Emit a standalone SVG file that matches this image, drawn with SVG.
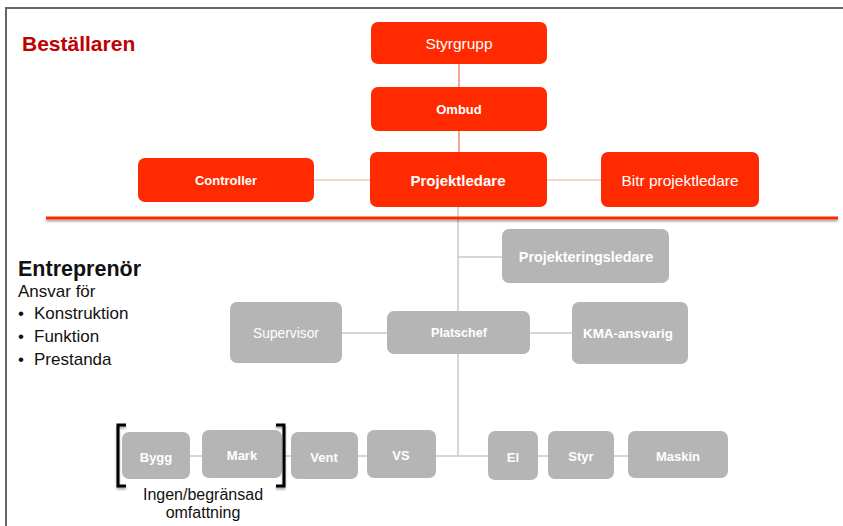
<svg xmlns="http://www.w3.org/2000/svg" width="843" height="526" viewBox="0 0 843 526">
  <defs>
    <filter id="sh" x="-5%" y="-50%" width="110%" height="300%">
      <feGaussianBlur in="SourceAlpha" stdDeviation="1.2"/>
      <feOffset dx="0" dy="2" result="b"/>
      <feComponentTransfer><feFuncA type="linear" slope="0.35"/></feComponentTransfer>
      <feMerge><feMergeNode/><feMergeNode in="SourceGraphic"/></feMerge>
    </filter>
  </defs>
  <style>
    text { font-family: "Liberation Sans", Arial, sans-serif; }
    .red rect { fill: #ff2a00; }
    .gray rect { fill: #b5b5b5; }
    .lbl { fill: #ffffff; font-size: 13px; text-anchor: middle; }
    .b { font-weight: bold; }
    .redline { stroke: #f26a50; stroke-width: 1.2; fill: none; }
    .paleline { stroke: #f5a898; stroke-width: 1.2; fill: none; }
    .grayline { stroke: #c8c8c8; stroke-width: 1.5; fill: none; }
    .side { fill: #111111; font-size: 17px; }
    .bracket { stroke: #000000; stroke-width: 3; fill: none; }
  </style>

  <rect width="843" height="526" fill="#ffffff"/>
  <!-- slide frame -->
  <path d="M6,526 V8 H843" stroke="#666666" stroke-width="2" fill="none"/>

  <!-- connectors -->
  <g id="connectors">
    <line class="redline" x1="459" y1="64" x2="459" y2="87"/>
    <line class="redline" x1="459" y1="131" x2="459" y2="152"/>
    <line class="paleline" x1="314" y1="180" x2="370" y2="180"/>
    <line class="paleline" x1="547" y1="180" x2="601" y2="180"/>
    <line class="grayline" x1="458" y1="207" x2="458" y2="456"/>
    <line class="grayline" x1="458" y1="257" x2="502" y2="257"/>
    <line class="grayline" x1="342" y1="333" x2="387" y2="333"/>
    <line class="grayline" x1="530" y1="333" x2="572" y2="333"/>
    <line class="grayline" x1="190" y1="456" x2="628" y2="456"/>
  </g>

  <!-- separator between client and contractor -->
  <rect x="46" y="216.5" width="792" height="3" fill="#ff2a00" filter="url(#sh)"/>

  <text x="22" y="51" fill="#c00000" font-size="21" font-weight="bold">Beställaren</text>

  <g id="styrgrupp" class="red">
    <rect x="371" y="22" width="176" height="42" rx="7"/>
    <text class="lbl" x="459" y="49" style="font-size:15.5px">Styrgrupp</text>
  </g>
  <g id="ombud" class="red">
    <rect x="371" y="87" width="176" height="44" rx="7"/>
    <text class="lbl b" x="459" y="114">Ombud</text>
  </g>
  <g id="controller" class="red">
    <rect x="138" y="158" width="176" height="44" rx="7"/>
    <text class="lbl b" x="226" y="185">Controller</text>
  </g>
  <g id="projektledare" class="red">
    <rect x="370" y="152" width="177" height="55" rx="7"/>
    <text class="lbl b" x="458" y="186" style="font-size:15px">Projektledare</text>
  </g>
  <g id="bitr-projektledare" class="red">
    <rect x="601" y="152" width="158" height="55" rx="7"/>
    <text class="lbl" x="680" y="186" style="font-size:15.5px">Bitr projektledare</text>
  </g>

  <!-- contractor side -->
  <text x="18" y="276" fill="#111111" font-size="21.5" font-weight="bold">Entreprenör</text>
  <text class="side" x="18" y="297">Ansvar för</text>
  <text class="side" x="18" y="319">•</text>
  <text class="side" x="34" y="319">Konstruktion</text>
  <text class="side" x="18" y="342">•</text>
  <text class="side" x="34" y="342">Funktion</text>
  <text class="side" x="18" y="365">•</text>
  <text class="side" x="34" y="365">Prestanda</text>

  <g id="projekteringsledare" class="gray">
    <rect x="502" y="229" width="167" height="54" rx="7"/>
    <text class="lbl b" x="586" y="262" style="font-size:14.4px">Projekteringsledare</text>
  </g>
  <g id="supervisor" class="gray">
    <rect x="230" y="302" width="112" height="61" rx="7"/>
    <text class="lbl" x="286" y="338" style="font-size:13.8px">Supervisor</text>
  </g>
  <g id="platschef" class="gray">
    <rect x="387" y="311" width="143" height="43" rx="7"/>
    <text class="lbl b" x="459" y="337" style="font-size:12.6px">Platschef</text>
  </g>
  <g id="kma-ansvarig" class="gray">
    <rect x="572" y="302" width="116" height="62" rx="7"/>
    <text class="lbl b" x="628" y="338" style="font-size:13.4px">KMA-ansvarig</text>
  </g>

  <g id="bygg" class="gray">
    <rect x="122" y="432" width="68" height="47" rx="7"/>
    <text class="lbl b" x="156" y="462">Bygg</text>
  </g>
  <g id="mark" class="gray">
    <rect x="202" y="430" width="80" height="48" rx="7"/>
    <text class="lbl b" x="242" y="460">Mark</text>
  </g>
  <g id="vent" class="gray">
    <rect x="291" y="432" width="67" height="47" rx="7"/>
    <text class="lbl b" x="324" y="462">Vent</text>
  </g>
  <g id="vs" class="gray">
    <rect x="367" y="430" width="69" height="48" rx="7"/>
    <text class="lbl b" x="401" y="460">VS</text>
  </g>
  <g id="el" class="gray">
    <rect x="488" y="431" width="50" height="49" rx="7"/>
    <text class="lbl b" x="513" y="462">El</text>
  </g>
  <g id="styr" class="gray">
    <rect x="548" y="431" width="66" height="48" rx="7"/>
    <text class="lbl b" x="581" y="461">Styr</text>
  </g>
  <g id="maskin" class="gray">
    <rect x="628" y="431" width="100" height="47" rx="7"/>
    <text class="lbl b" x="678" y="461">Maskin</text>
  </g>

  <!-- bracket grouping Bygg and Mark -->
  <g filter="url(#sh)">
    <path class="bracket" d="M126,425 H118 V486 H126"/>
    <path class="bracket" d="M276,425 H284 V486 H276"/>
  </g>
  <text class="side" x="203" y="500" text-anchor="middle" style="font-size:16px">Ingen/begränsad</text>
  <text class="side" x="203" y="518" text-anchor="middle" style="font-size:16px">omfattning</text>
</svg>
